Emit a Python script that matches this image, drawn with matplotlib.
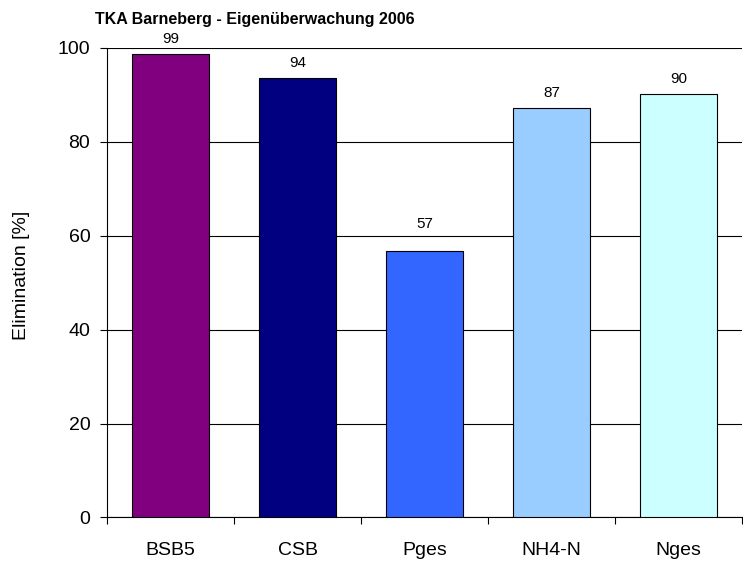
import matplotlib
matplotlib.use("Agg")
import matplotlib.pyplot as plt
import numpy as np

plt.rcParams['font.family'] = ['Liberation Sans', 'DejaVu Sans']

categories = ["BSB5", "CSB", "Pges", "NH4-N", "Nges"]
values = [98.7, 93.6, 56.7, 87.3, 90.1]
labels = ["99", "94", "57", "87", "90"]
colors = ["#800080", "#000080", "#3366FF", "#99CCFF", "#CCFFFF"]
yticks = [0, 20, 40, 60, 80, 100]

# label offsets (points) above bar tops
label_offsets = [8, 8, 17, 8, 8]

fig = plt.figure(figsize=(7.43, 5.62), dpi=100)
ax = fig.add_axes([0.144, 0.0792, 0.8547, 0.8354])

x = np.arange(len(categories))
ax.bar(x, values, width=0.6, color=colors, edgecolor="black", linewidth=0.8, zorder=3)
for xi, v, l, off in zip(x, values, labels, label_offsets):
    ax.annotate(l, (xi, v), xytext=(0, off), textcoords="offset points",
                ha="center", va="baseline", fontsize=11, zorder=4)

ax.set_xlim(-0.5, len(categories) - 0.5)
ax.set_ylim(0, 100)
ax.set_yticks(yticks)
ax.set_yticklabels([str(t) for t in yticks], fontsize=14)
ax.yaxis.grid(True, color="black", linewidth=0.8, zorder=0)
ax.set_xticks(x)
ax.set_xticklabels(categories, fontsize=14)
ax.tick_params(axis="x", length=0, pad=17.5)
ax.set_xticks(np.arange(len(categories) + 1) - 0.5, minor=True)
ax.tick_params(axis="x", which="minor", length=5, direction="out", width=0.8)
ax.tick_params(axis="y", length=5, direction="out", width=0.8, pad=7)
for s in ["top", "right"]:
    ax.spines[s].set_visible(False)
ax.spines["left"].set_linewidth(0.8)
ax.spines["bottom"].set_linewidth(0.8)
ax.set_ylabel("Elimination [%]", fontsize=14, va="center")
ax.yaxis.set_label_coords(-0.134, 0.515)

fig.text(95 / 743, 1 - 24 / 562, "TKA Barneberg - Eigenüberwachung 2006", fontsize=11.5,
         fontweight="bold", ha="left", va="baseline")

fig.savefig("out.png", dpi=100)
